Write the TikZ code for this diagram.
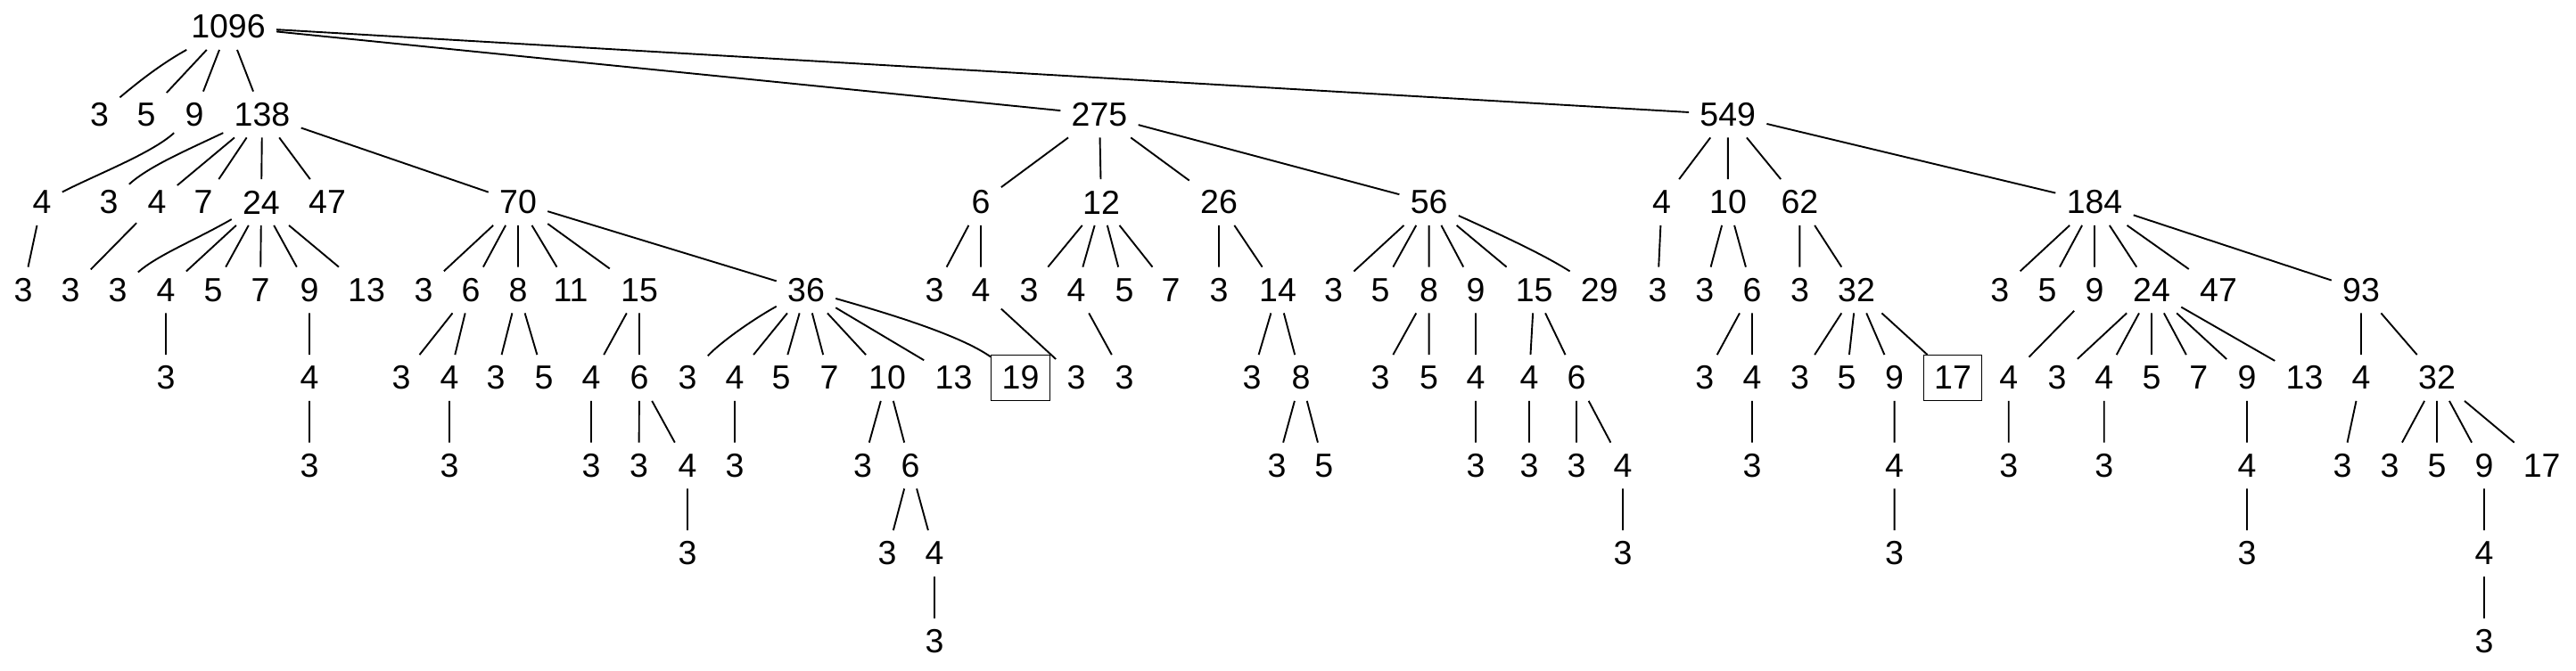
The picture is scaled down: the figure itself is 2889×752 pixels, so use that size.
\documentclass[tikz,border=0pt]{standalone}
\usepackage{fontspec}
\setmainfont{Liberation Sans}
\begin{document}
\begin{tikzpicture}[x=0.5pt,y=-0.5pt,
  n/.style={inner xsep=6pt,inner ysep=0pt,minimum height=25.5pt,font=\fontsize{18.75}{22}\selectfont},
  bx/.style={n,draw,line width=0.6pt},
  e/.style={line width=0.95pt}]
\useasboundingbox[fill=white] (0,0) rectangle (2889,752);
% level 0
\node[n] (r) at (256,30) {1096};
% level 1
\node[n] (p3) at (111.6,128.5) {3};
\node[n] (p5) at (164,128.5) {5};
\node[n] (p9) at (218,128.5) {9};
\node[n] (p138) at (294,128.5) {138};
\node[n] (p275) at (1233,128.5) {275};
\node[n] (p549) at (1937.7,128.5) {549};
% level 2
\node[n] (q4) at (47,227) {4};
\node[n] (q3) at (122,227) {3};
\node[n] (q4b) at (176,227) {4};
\node[n] (q7) at (228,227) {7};
\node[n] (q24) at (293,227) {24};
\node[n] (q47) at (367,227) {47};
\node[n] (q70) at (581,227) {70};
\node[n] (q6) at (1100,227) {6};
\node[n] (q12) at (1235,227) {12};
\node[n] (q26) at (1367,227) {26};
\node[n] (q56) at (1602.6,227) {56};
\node[n] (q4c) at (1863.6,227) {4};
\node[n] (q10) at (1938,227) {10};
\node[n] (q62) at (2018.4,227) {62};
\node[n] (q184) at (2349,227) {184};
% level 3
\node[n] (s1) at (26,325.5) {3};
\node[n] (s2) at (79,325.5) {3};
\node[n] (s3) at (132,325.5) {3};
\node[n] (s4) at (186,325.5) {4};
\node[n] (s5) at (239,325.5) {5};
\node[n] (s6) at (292,325.5) {7};
\node[n] (s7) at (347,325.5) {9};
\node[n] (s8) at (411,325.5) {13};
\node[n] (s9) at (475,325.5) {3};
\node[n] (s10) at (528,325.5) {6};
\node[n] (s11) at (581,325.5) {8};
\node[n] (s12) at (640,325.5) {11};
\node[n] (s13) at (717,325.5) {15};
\node[n] (s14) at (904,325.5) {36};
\node[n] (s15) at (1048,325.5) {3};
\node[n] (s16) at (1100,325.5) {4};
\node[n] (s17) at (1154,325.5) {3};
\node[n] (s18) at (1207,325.5) {4};
\node[n] (s19) at (1261,325.5) {5};
\node[n] (s20) at (1313,325.5) {7};
\node[n] (s21) at (1367,325.5) {3};
\node[n] (s22) at (1433,325.5) {14};
\node[n] (s23) at (1495.5,325.5) {3};
\node[n] (s24) at (1548,325.5) {5};
\node[n] (s25) at (1602.6,325.5) {8};
\node[n] (s26) at (1655,325.5) {9};
\node[n] (s27) at (1720.6,325.5) {15};
\node[n] (s28) at (1793.8,325.5) {29};
\node[n] (s29) at (1859,325.5) {3};
\node[n] (s30) at (1911.7,325.5) {3};
\node[n] (s31) at (1965,325.5) {6};
\node[n] (s32) at (2018.4,325.5) {3};
\node[n] (s33) at (2082,325.5) {32};
\node[n] (s34) at (2242.8,325.5) {3};
\node[n] (s35) at (2296,325.5) {5};
\node[n] (s36) at (2349,325.5) {9};
\node[n] (s37) at (2413,325.5) {24};
\node[n] (s38) at (2488,325.5) {47};
\node[n] (s39) at (2648,325.5) {93};
% level 4
\node[n] (t1) at (186,424) {3};
\node[n] (t2) at (347,424) {4};
\node[n] (t3) at (450,424) {3};
\node[n] (t4) at (504,424) {4};
\node[n] (t5) at (556,424) {3};
\node[n] (t6) at (610,424) {5};
\node[n] (t7) at (663,424) {4};
\node[n] (t8) at (717,424) {6};
\node[n] (t9) at (771,424) {3};
\node[n] (t10) at (824,424) {4};
\node[n] (t11) at (876,424) {5};
\node[n] (t12) at (930,424) {7};
\node[n] (t13) at (995,424) {10};
\node[n] (t14) at (1069.5,424) {13};
\node[bx] (t15) at (1144.5,424) {19};
\node[n] (t16) at (1207,424) {3};
\node[n] (t17) at (1261,424) {3};
\node[n] (t18) at (1404,424) {3};
\node[n] (t19) at (1459,424) {8};
\node[n] (t20) at (1548,424) {3};
\node[n] (t21) at (1602.6,424) {5};
\node[n] (t22) at (1655,424) {4};
\node[n] (t23) at (1715,424) {4};
\node[n] (t24) at (1768,424) {6};
\node[n] (t25) at (1911.7,424) {3};
\node[n] (t26) at (1965,424) {4};
\node[n] (t27) at (2018.4,424) {3};
\node[n] (t28) at (2071,424) {5};
\node[n] (t29) at (2124.6,424) {9};
\node[bx] (t30) at (2190,424) {17};
\node[n] (t31) at (2252.7,424) {4};
\node[n] (t32) at (2307,424) {3};
\node[n] (t33) at (2359.7,424) {4};
\node[n] (t34) at (2413,424) {5};
\node[n] (t35) at (2465.7,424) {7};
\node[n] (t36) at (2520,424) {9};
\node[n] (t37) at (2584.5,424) {13};
\node[n] (t38) at (2648,424) {4};
\node[n] (t39) at (2733,424) {32};
% level 5
\node[n] (u1) at (347,522.5) {3};
\node[n] (u2) at (504,522.5) {3};
\node[n] (u3) at (663,522.5) {3};
\node[n] (u4) at (716.5,522.5) {3};
\node[n] (u5) at (771,522.5) {4};
\node[n] (u6) at (824,522.5) {3};
\node[n] (u7) at (967.6,522.5) {3};
\node[n] (u8) at (1021,522.5) {6};
\node[n] (u9) at (1432,522.5) {3};
\node[n] (u10) at (1484.7,522.5) {5};
\node[n] (u11) at (1655,522.5) {3};
\node[n] (u12) at (1715,522.5) {3};
\node[n] (u13) at (1768,522.5) {3};
\node[n] (u14) at (1820,522.5) {4};
\node[n] (u15) at (1965,522.5) {3};
\node[n] (u16) at (2124.6,522.5) {4};
\node[n] (u17) at (2252.7,522.5) {3};
\node[n] (u18) at (2359.7,522.5) {3};
\node[n] (u19) at (2520,522.5) {4};
\node[n] (u20) at (2627,522.5) {3};
\node[n] (u21) at (2680,522.5) {3};
\node[n] (u22) at (2733,522.5) {5};
\node[n] (u23) at (2786,522.5) {9};
\node[n] (u24) at (2850.7,522.5) {17};
% level 6
\node[n] (v1) at (771,621) {3};
\node[n] (v2) at (995,621) {3};
\node[n] (v3) at (1048,621) {4};
\node[n] (v4) at (1820,621) {3};
\node[n] (v5) at (2124.6,621) {3};
\node[n] (v6) at (2520,621) {3};
\node[n] (v7) at (2786,621) {4};
% level 7
\node[n] (w1) at (1048,719.5) {3};
\node[n] (w2) at (2786,719.5) {3};
% edges
\draw[e] (r) .. controls (180.7,71.7) and (155,92) .. (p3);
\draw[e] (r) -- (p5) (r) -- (p9) (r) -- (p138) (r) -- (p275) (r) -- (p549);
\draw[e] (p9) .. controls (170,172) and (110,195) .. (q4);
\draw[e] (p138) .. controls (204,171) and (167,187) .. (q3);
\draw[e] (p138) -- (q4b) (p138) -- (q7) (p138) -- (q24) (p138) -- (q47) (p138) -- (q70);
\draw[e] (p275) -- (q6) (p275) -- (q12) (p275) -- (q26) (p275) -- (q56);
\draw[e] (p549) -- (q4c) (p549) -- (q10) (p549) -- (q62) (p549) -- (q184);
\draw[e] (q4) -- (s1) (q4b) -- (s2);
\draw[e] (q24) .. controls (218,270) and (177,286) .. (s3);
\draw[e] (q24) -- (s4) (q24) -- (s5) (q24) -- (s6) (q24) -- (s7) (q24) -- (s8);
\draw[e] (q70) -- (s9) (q70) -- (s10) (q70) -- (s11) (q70) -- (s12) (q70) -- (s13) (q70) -- (s14);
\draw[e] (q6) -- (s15) (q6) -- (s16);
\draw[e] (q12) -- (s17) (q12) -- (s18) (q12) -- (s19) (q12) -- (s20);
\draw[e] (q26) -- (s21) (q26) -- (s22);
\draw[e] (q56) -- (s23) (q56) -- (s24) (q56) -- (s25) (q56) -- (s26) (q56) -- (s27);
\draw[e] (q56) .. controls (1680,262) and (1730,285) .. (s28);
\draw[e] (q4c) -- (s29) (q10) -- (s30) (q10) -- (s31) (q62) -- (s32) (q62) -- (s33);
\draw[e] (q184) -- (s34) (q184) -- (s35) (q184) -- (s36) (q184) -- (s37) (q184) -- (s38) (q184) -- (s39);
\draw[e] (s4) -- (t1) (s7) -- (t2) (s10) -- (t3) (s10) -- (t4) (s11) -- (t5) (s11) -- (t6) (s13) -- (t7) (s13) -- (t8);
\draw[e] (s14) .. controls (845,358) and (808,384) .. (t9);
\draw[e] (s14) -- (t10) (s14) -- (t11) (s14) -- (t12) (s14) -- (t13) (s14) -- (t14);
\draw[e] (s14) .. controls (990,350) and (1075,375) .. (t15);
\draw[e] (s16) -- (t16) (s18) -- (t17) (s22) -- (t18) (s22) -- (t19) (s25) -- (t20) (s25) -- (t21) (s26) -- (t22) (s27) -- (t23) (s27) -- (t24);
\draw[e] (s31) -- (t25) (s31) -- (t26) (s33) -- (t27) (s33) -- (t28) (s33) -- (t29) (s33) -- (t30);
\draw[e] (s36) -- (t31) (s37) -- (t32) (s37) -- (t33) (s37) -- (t34) (s37) -- (t35) (s37) -- (t36) (s37) -- (t37);
\draw[e] (s39) -- (t38) (s39) -- (t39);
\draw[e] (t2) -- (u1) (t4) -- (u2) (t7) -- (u3) (t8) -- (u4) (t8) -- (u5) (t10) -- (u6) (t13) -- (u7) (t13) -- (u8);
\draw[e] (t19) -- (u9) (t19) -- (u10) (t22) -- (u11) (t23) -- (u12) (t24) -- (u13) (t24) -- (u14) (t26) -- (u15);
\draw[e] (t29) -- (u16) (t31) -- (u17) (t33) -- (u18) (t36) -- (u19) (t38) -- (u20);
\draw[e] (t39) -- (u21) (t39) -- (u22) (t39) -- (u23) (t39) -- (u24);
\draw[e] (u5) -- (v1) (u8) -- (v2) (u8) -- (v3) (u14) -- (v4) (u16) -- (v5) (u19) -- (v6) (u23) -- (v7);
\draw[e] (v3) -- (w1) (v7) -- (w2);
\end{tikzpicture}
\end{document}
